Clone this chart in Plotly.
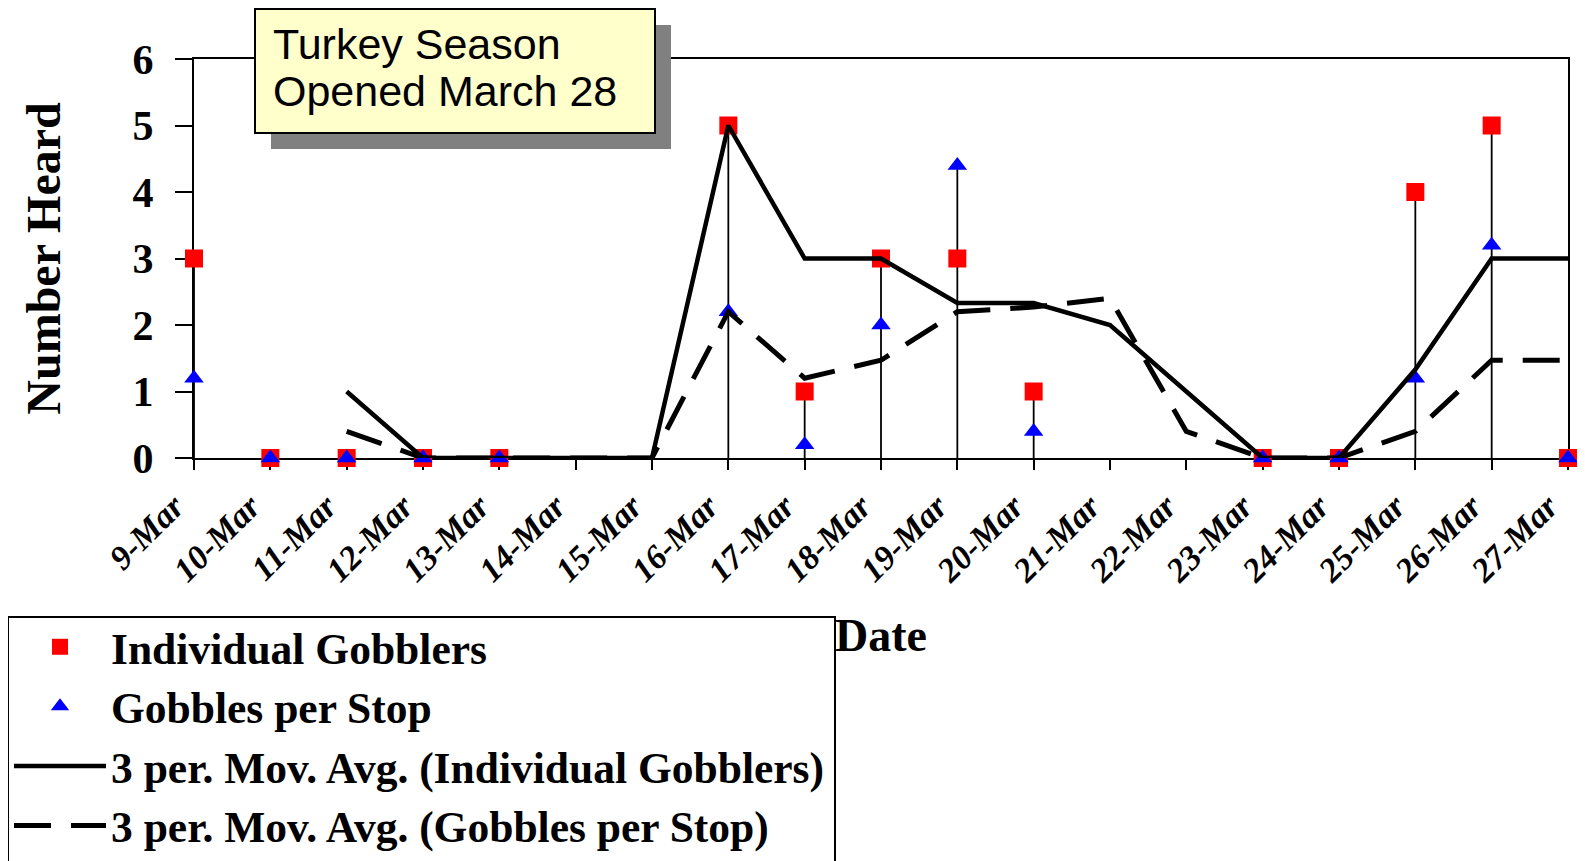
import plotly.graph_objects as go

# ---------------- data ----------------
dates = ["9-Mar", "10-Mar", "11-Mar", "12-Mar", "13-Mar", "14-Mar", "15-Mar",
         "16-Mar", "17-Mar", "18-Mar", "19-Mar", "20-Mar", "21-Mar", "22-Mar",
         "23-Mar", "24-Mar", "25-Mar", "26-Mar", "27-Mar"]
individual_gobblers = [3, 0, 0, 0, 0, None, None, 5, 1, 3, 3, 1, None, None,
                       0, 0, 4, 5, 0]
gobbles_per_stop = [1.2, 0, 0, 0, 0, None, None, 2.2, 0.2, 2.0, 4.4, 0.4, None, None,
                    0, 0, 1.2, 3.2, 0]
ma_individual = [None, None, 1.0, 0, 0, 0, 0, 5, 3, 3, 2.33, 2.33, 2, 1,
                 0, 0, 1.33, 3, 3]
ma_gobbles = [None, None, 0.4, 0, 0, 0, 0, 2.2, 1.2, 1.47, 2.2, 2.27, 2.4, 0.4,
              0, 0, 0.4, 1.47, 1.47]
y_ticks = [0, 1, 2, 3, 4, 5, 6]
note_lines = ["Turkey Season", "Opened March 28"]

# ---------------- layout geometry (screen pixels) ----------------
OFF = 8                      # page body margin offset
W, H = 1585 - OFF, 861 - OFF
L, R, T, B = 194, 1568, 59, 458   # plot area in screen pixels
PW, PH = R - L, B - T


def px(x):
    return (x - L) / PW


def py(y):
    return (B - y) / PH


SERIF = "Liberation Serif"
SANS = "Liberation Sans"

# drop lines: from the highest point of each date down to the axis
drop_x, drop_y = [], []
for d, a, b in zip(dates, individual_gobblers, gobbles_per_stop):
    vals = [v for v in (a, b) if v is not None]
    if vals and max(vals) > 0:
        drop_x += [d, d, None]
        drop_y += [0, max(vals), None]

fig = go.Figure()
fig.add_trace(go.Scatter(x=drop_x, y=drop_y, mode="lines",
                         line=dict(color="black", width=1.8),
                         showlegend=False, hoverinfo="skip"))
fig.add_trace(go.Scatter(x=dates, y=individual_gobblers, mode="markers",
                         name="Individual Gobblers",
                         marker=dict(symbol="square", size=18, color="#FF0000"),
                         cliponaxis=False))
fig.add_trace(go.Scatter(x=dates, y=gobbles_per_stop, mode="markers",
                         name="Gobbles per Stop",
                         marker=dict(symbol="triangle-up", size=17, color="#0000FF"),
                         cliponaxis=False))
fig.add_trace(go.Scatter(x=dates, y=ma_individual, mode="lines",
                         name="3 per. Mov. Avg. (Individual Gobblers)",
                         line=dict(color="black", width=4.5),
                         cliponaxis=False))
fig.add_trace(go.Scatter(x=dates, y=ma_gobbles, mode="lines",
                         name="3 per. Mov. Avg. (Gobbles per Stop)",
                         line=dict(color="black", width=5, dash="37px,20px"),
                         cliponaxis=False))

# note box with shadow
fig.add_shape(type="rect", xref="paper", yref="paper",
              x0=px(271), x1=px(671), y0=py(149), y1=py(25),
              fillcolor="#808080", line=dict(width=0), layer="above")
fig.add_shape(type="rect", xref="paper", yref="paper",
              x0=px(255), x1=px(655), y0=py(133), y1=py(9),
              fillcolor="#FFFFCC", line=dict(color="black", width=2), layer="above")
for txt, yc in zip(note_lines, [44, 91]):
    fig.add_annotation(text=txt, xref="paper", yref="paper",
                       x=px(271), y=py(yc), xanchor="left", yanchor="middle",
                       showarrow=False, font=dict(family=SANS, size=43, color="black"))

# legend frame (runs off the bottom edge, as in the original)
fig.add_shape(type="rect", xref="paper", yref="paper",
              x0=px(8), x1=px(835), y0=py(900), y1=py(617),
              fillcolor="rgba(0,0,0,0)", line=dict(color="black", width=2), layer="above")

fig.update_layout(
    width=W, height=H,
    margin=dict(l=L - OFF, r=W - (R - OFF), t=T - OFF, b=H - (B - OFF), autoexpand=False),
    paper_bgcolor="white", plot_bgcolor="white",
    font=dict(family=SERIF, color="black"),
    showlegend=True,
    legend=dict(
        x=px(9), y=py(612), xanchor="left", yanchor="top",
        bgcolor="rgba(0,0,0,0)", borderwidth=0,
        font=dict(family=SERIF, size=43.5, color="black", weight="bold"),
        itemwidth=92, itemsizing="trace", maxheight=1000,
    ),
    xaxis=dict(
        type="category", range=[0, len(dates) - 1],
        categoryorder="array", categoryarray=dates,
        showline=True, linecolor="black", linewidth=2, mirror=True,
        ticks="outside", ticklen=10, tickwidth=2, tickcolor="black",
        tickangle=-45, showgrid=False, zeroline=False,
        ticklabelshift=-20, ticklabelstandoff=3,
        tickfont=dict(family=SERIF, size=34, weight="bold", style="italic", color="black"),
        title=dict(text="Date", standoff=31,
                   font=dict(family=SERIF, size=46, weight="bold", color="black")),
        layer="below traces",
    ),
    yaxis=dict(
        range=[0, 6], tickvals=y_ticks,
        showline=True, linecolor="black", linewidth=2, mirror=True,
        ticks="outside", ticklen=17, tickwidth=2, tickcolor="black",
        showgrid=False, zeroline=False, ticklabelstandoff=13,
        tickfont=dict(family=SERIF, size=42, weight="bold", color="black"),
        title=dict(text="Number Heard", standoff=57,
                   font=dict(family=SERIF, size=48, weight="bold", color="black")),
        layer="below traces",
    ),
)

fig.write_html("out.html")
